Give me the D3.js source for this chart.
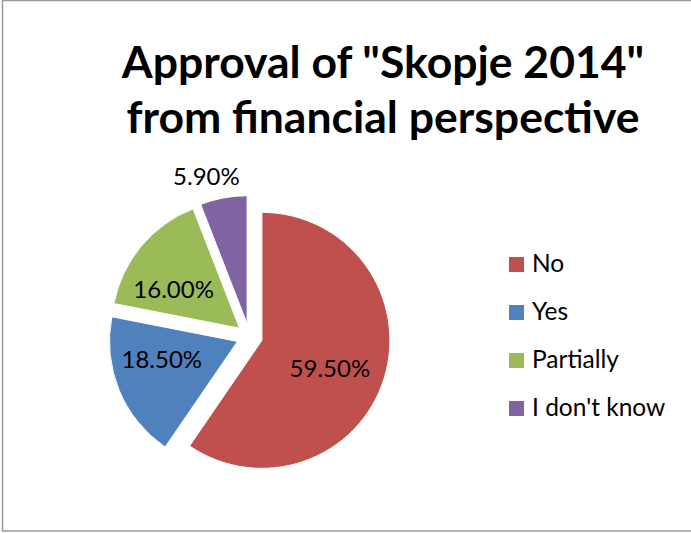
<!DOCTYPE html>
<html>
<head>
<meta charset="utf-8">
<script src="https://cdn.jsdelivr.net/npm/d3@7"></script>
<style>
  html, body { margin: 0; padding: 0; background: #fff; }
  svg { display: block; }
  text { font-family: Lato, "Open Sans", sans-serif; fill: #000; }
</style>
</head>
<body>
<div id="chart"></div>
<script>
// Survey answers and their shares (percent)
const categories = ["No", "Yes", "Partially", "I don't know"];
const shares = [59.5, 18.5, 16.0, 5.9];
const sliceLabels = ["59.50%", "18.50%", "16.00%", "5.90%"];
const colors = ["#C0504D", "#4F81BD", "#9BBB59", "#8064A2"];
const titleLines = ["Approval of \"Skopje 2014\"", "from financial perspective"];

const width = 691, height = 533;
const svg = d3.select("#chart").append("svg")
  .attr("width", width).attr("height", height);

// chart area frame
svg.append("rect")
  .attr("x", 2.5).attr("y", 0.5)
  .attr("width", width + 10).attr("height", 530.5)
  .attr("fill", "#fff").attr("stroke", "#9a9a9a").attr("stroke-width", 1.5);

// title
const title = svg.append("text")
  .attr("text-anchor", "middle")
  .attr("font-weight", 700)
  .attr("font-size", 44.5);
title.selectAll("tspan").data(titleLines).join("tspan")
  .attr("x", 383)
  .attr("y", (d, i) => 78 + i * 55)
  .text(d => d);

// pie
const cx = 249.5, cy = 336.5, radius = 128, explode = 13;
const pie = d3.pie().sort(null).value(d => d.value);
const data = categories.map((c, i) => ({ name: c, value: shares[i], label: sliceLabels[i], color: colors[i] }));
const arcs = pie(data);
const arc = d3.arc().innerRadius(0).outerRadius(radius);
const labelArcIn = d3.arc().innerRadius(radius * 0.58).outerRadius(radius * 0.58);
const labelArcOut = d3.arc().innerRadius(radius + 22).outerRadius(radius + 22);

// best-fit style nudges for the value labels (pixels)
const labelNudge = [[-3, 6], [-7, -10], [-9, 9], [-13, 0]];

const g = svg.append("g").attr("transform", `translate(${cx},${cy})`);

function offset(d) {
  const a = (d.startAngle + d.endAngle) / 2;
  return [Math.sin(a) * explode, -Math.cos(a) * explode];
}

const slices = g.selectAll("g.slice").data(arcs).join("g")
  .attr("class", "slice")
  .attr("transform", d => { const o = offset(d); return `translate(${o[0]},${o[1]})`; });

slices.append("path")
  .attr("d", arc)
  .attr("fill", d => d.data.color)
  .attr("stroke", "#fff")
  .attr("stroke-width", 1);

// value labels: inside for large slices, outside for small ones
slices.append("text")
  .attr("text-anchor", "middle")
  .attr("dy", "0.36em")
  .attr("font-size", 24)
  .attr("transform", (d, i) => {
    const small = d.data.value < 10;
    const p = small ? labelArcOut.centroid(d) : labelArcIn.centroid(d);
    return `translate(${p[0] + labelNudge[i][0]},${p[1] + labelNudge[i][1]})`;
  })
  .text(d => d.data.label);

// legend
const legend = svg.append("g").attr("transform", "translate(509,257)");
const items = legend.selectAll("g").data(data).join("g")
  .attr("transform", (d, i) => `translate(0,${i * 48})`);
items.append("rect")
  .attr("width", 15).attr("height", 15)
  .attr("fill", d => d.color);
items.append("text")
  .attr("x", 23).attr("y", 15)
  .attr("font-size", 24.5)
  .text(d => d.name);
</script>
</body>
</html>
